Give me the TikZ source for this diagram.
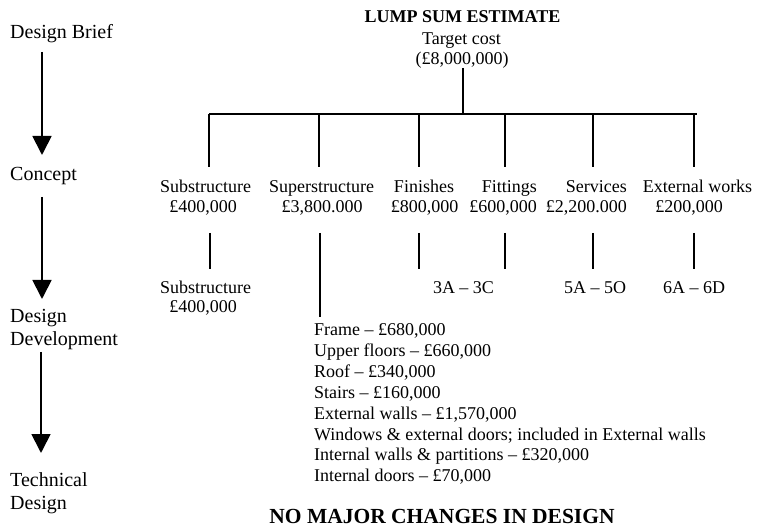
\documentclass[tikz,border=0pt]{standalone}
\usepackage{fontspec}
\setmainfont{Liberation Serif}
\usetikzlibrary{arrows.meta}
\begin{document}
\begin{tikzpicture}[x=1pt,y=-1pt,
  stage/.style={font=\fontsize{20}{23}\selectfont, anchor=base west, inner sep=0pt},
  lbl/.style={font=\fontsize{18}{20}\selectfont, anchor=base, inner sep=0pt},
  lble/.style={lbl, anchor=base east},
  lblw/.style={lbl, anchor=base west},
  ttl/.style={font=\fontsize{18}{20}\selectfont\bfseries, anchor=base, inner sep=0pt},
  big/.style={font=\fontsize{21.5}{25}\selectfont\bfseries, anchor=base, inner sep=0pt},
  flow/.style={line width=1.8pt, -{Triangle[width=19pt,length=19pt]}},
  tree/.style={line width=1.5pt}]
\useasboundingbox (0,0) rectangle (758,529);

% stages on the left
\node[stage] (brief) at (10,39) {Design Brief};
\node[stage] (concept) at (10,181) {Concept};
\node[stage] (dd1) at (10,323) {Design};
\node[stage] (dd2) at (10,346) {Development};
\node[stage] (td1) at (10,486) {Technical};
\node[stage] (td2) at (10,509) {Design};

\coordinate (a1s) at (42,52);  \coordinate (a1e) at (42,155);
\coordinate (a2s) at (42,197); \coordinate (a2e) at (42,299);
\coordinate (a3s) at (41,352); \coordinate (a3e) at (41,453);
\draw[flow] (a1s) -- (a1e);
\draw[flow] (a2s) -- (a2e);
\draw[flow] (a3s) -- (a3e);

% top of tree
\node[ttl] (lump) at (462.5,23) {LUMP SUM ESTIMATE};
\node[lbl] (target) at (461.5,45) {Target cost};
\node[lbl] (tc) at (462,65) {(£8,000,000)};

\coordinate (stemtop) at (463,68);
\coordinate (stembot) at (463,114);
\coordinate (barL) at (209,114);
\coordinate (barR) at (697,114);
\draw[tree] (stemtop) -- (stembot);
\draw[tree] (barL) -- (barR);

% first row of elements
\node[lbl] (sub1) at (205.5,193) {Substructure};
\node[lbl] (sub1v) at (203,213) {£400,000};
\node[lbl] (sup1) at (321.5,193) {Superstructure};
\node[lbl] (sup1v) at (322,213) {£3,800.000};
\node[lbl] (fin1) at (424,193) {Finishes};
\node[lbl] (fin1v) at (424.5,213) {£800,000};
\node[lble] (fit1) at (537,193) {Fittings};
\node[lble] (fit1v) at (537,213) {£600,000};
\node[lble] (ser1) at (627,193) {Services};
\node[lble] (ser1v) at (627,213) {£2,200.000};
\node[lbl] (ext1) at (697.5,193) {External works};
\node[lbl] (ext1v) at (689,213) {£200,000};

\foreach \n/\x in {d1/209,d2/319,d3/419,d4/505,d5/593,d6/694}{
  \coordinate (\n t) at (\x,114);
  \coordinate (\n b) at (\x,167);
  \draw[tree] (\n t) -- (\n b);
}

% second row
\node[lbl] (sub2) at (205.5,294) {Substructure};
\node[lbl] (sub2v) at (203,313) {£400,000};
\node[lbl] (fin2) at (463.5,294) {3A -- 3C};
\node[lbl] (ser2) at (595,294) {5A -- 5O};
\node[lbl] (ext2) at (694,294) {6A -- 6D};

\foreach \n/\x/\e in {e1/210/269,e2/320/317,e3/419/269,e4/505/269,e5/593/269,e6/694/269}{
  \coordinate (\n t) at (\x,233);
  \coordinate (\n b) at (\x,\e);
  \draw[tree] (\n t) -- (\n b);
}

% superstructure breakdown
\foreach \i/\t in {0/{Frame -- £680,000},
                   1/{Upper floors -- £660,000},
                   2/{Roof -- £340,000},
                   3/{Stairs -- £160,000},
                   4/{External walls -- £1,570,000},
                   5/{Windows \& external doors; included in External walls},
                   6/{Internal walls \& partitions -- £320,000},
                   7/{Internal doors -- £70,000}}{
  \node[lblw] (item\i) at (314,336+20.8*\i) {\t};
}

\node[big] (nochg) at (442,523) {NO MAJOR CHANGES IN DESIGN};
\end{tikzpicture}
\end{document}
